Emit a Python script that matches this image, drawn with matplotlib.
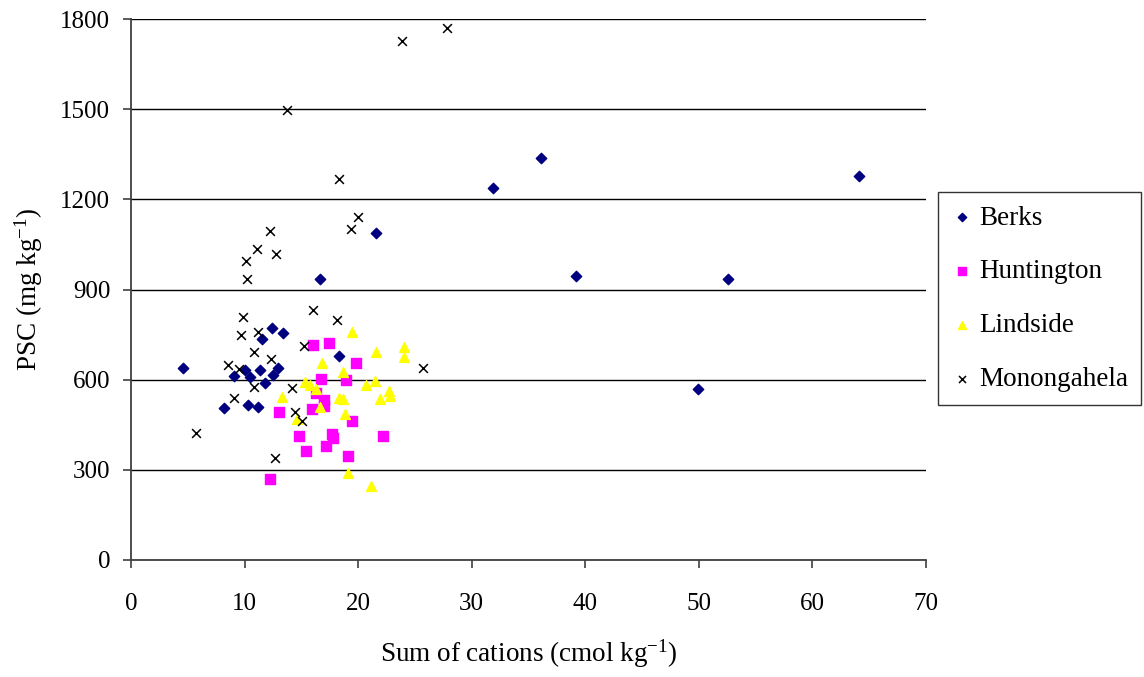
import matplotlib
matplotlib.use("Agg")
import matplotlib.pyplot as plt

plt.rcParams['font.family'] = ['Liberation Serif', 'DejaVu Serif']
plt.rcParams['mathtext.fontset'] = 'custom'
plt.rcParams['mathtext.rm'] = 'Liberation Serif'
plt.rcParams['mathtext.default'] = 'regular'

berks_x = [4.6, 8.2, 9.1, 10.0, 10.3, 10.5, 11.2, 11.4, 11.5, 11.8, 12.4, 12.5, 12.9, 13.4,
           16.6, 18.3, 21.6, 31.9, 36.1, 39.2, 49.9, 52.6, 64.1]
berks_y = [638, 505, 612, 632, 515, 608, 510, 633, 734, 590, 772, 617, 640, 756,
           935, 679, 1089, 1237, 1337, 945, 569, 935, 1277]

hunt_x = [16.0, 17.4, 19.8, 16.7, 18.9, 16.3, 17.0, 15.9, 17.0, 19.5, 13.0, 14.8, 17.7,
          17.8, 22.2, 15.4, 17.2, 19.1, 12.2]
hunt_y = [717, 721, 657, 601, 599, 557, 532, 501, 512, 463, 493, 413, 419,
          406, 414, 364, 378, 346, 268]

lind_x = [19.5, 24.0, 24.0, 21.6, 16.8, 18.7, 15.3, 15.8, 16.3, 20.7, 21.5, 22.7, 22.8,
          21.9, 18.3, 18.7, 16.6, 18.8, 14.6, 13.3, 19.1, 21.1]
lind_y = [758, 709, 676, 691, 654, 627, 591, 583, 568, 583, 596, 563, 547,
          536, 538, 535, 510, 486, 468, 543, 291, 246]

mono_x = [27.8, 23.9, 13.7, 18.3, 20.0, 19.4, 12.2, 11.1, 12.8, 10.1, 10.2, 9.9, 9.7,
          11.2, 10.8, 12.3, 8.5, 9.5, 10.8, 9.1, 14.2, 5.7, 16.0, 18.1, 15.2, 25.7,
          14.4, 15.1, 12.7]
mono_y = [1770, 1726, 1496, 1268, 1142, 1100, 1096, 1034, 1017, 994, 934, 807, 749,
          760, 691, 669, 649, 634, 575, 538, 571, 424, 832, 798, 713, 638,
          493, 463, 338]

x_ticks = [0, 10, 20, 30, 40, 50, 60, 70]
y_ticks = [0, 300, 600, 900, 1200, 1500, 1800]

fig = plt.figure(figsize=(11.44, 6.77), dpi=100)
ax = fig.add_axes([131/1144, 1 - 560/677, (926-131)/1144, (560-19)/677])

ax.scatter(berks_x, berks_y, marker='D', s=28, color='#000080', label='Berks', zorder=3)
ax.scatter(hunt_x, hunt_y, marker='s', s=42, color='#FF00FF', label='Huntington', zorder=3)
ax.scatter(lind_x, lind_y, marker='^', s=50, color='#FFFF00', label='Lindside', zorder=3)
ax.scatter(mono_x, mono_y, marker='x', s=40, color='black', linewidths=1.1,
           label='Monongahela', zorder=4)

ax.set_xlim(0, 70)
ax.set_ylim(0, 1800)
ax.set_xticks(x_ticks)
ax.set_yticks(y_ticks)
ax.yaxis.grid(True, color='black', linewidth=1.0)
ax.set_axisbelow(True)
for s in ['top', 'right']:
    ax.spines[s].set_visible(False)
ax.spines['left'].set_color('#404040')
ax.spines['bottom'].set_color('#404040')
ax.spines['left'].set_linewidth(1.3)
ax.spines['bottom'].set_linewidth(1.3)
ax.tick_params(axis='both', direction='out', length=6, width=1.2, labelsize=18,
               color='#404040')
ax.tick_params(axis='x', pad=18)
ax.tick_params(axis='y', pad=9)

ax.set_xlabel('Sum of cations (cmol kg$^{-1}$)', fontsize=19.5, labelpad=16)
ax.set_ylabel('PSC (mg kg$^{-1}$)', fontsize=19.5, labelpad=11)

leg = fig.legend(loc='upper left', bbox_to_anchor=(938/1144, 1 - 192/677),
                 fontsize=19.5, frameon=True, fancybox=False, edgecolor='black',
                 markerscale=0.8, handletextpad=0.26, labelspacing=1.06,
                 borderpad=0.5, handlelength=0.75, borderaxespad=0)
leg.get_frame().set_linewidth(1.0)

fig.savefig('out.png', dpi=100)
